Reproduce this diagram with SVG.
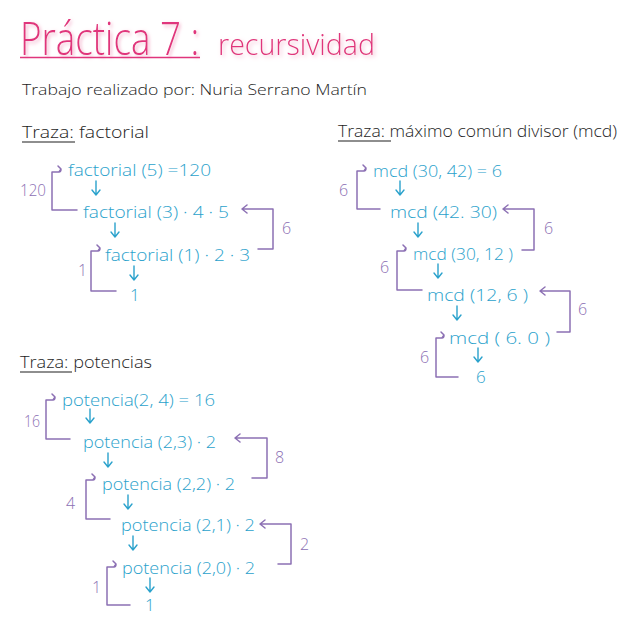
<svg xmlns="http://www.w3.org/2000/svg" width="627" height="629" viewBox="0 0 627 629">
<defs>
<style>
text{font-family:"Open Sans","Liberation Sans",sans-serif;}
.title{fill:#e0357c;font-weight:300;filter:url(#glow);}
.sub{fill:#1e1e1e;font-size:15px;font-weight:300;}
.head{fill:#1e1e1e;font-size:16px;font-weight:300;}
.b{fill:#2ba2cc;font-size:17px;font-weight:300;}
.p{fill:#8c70b4;font-size:16px;font-weight:300;}
.bl{fill:none;stroke:#2ba2cc;stroke-width:1.4;stroke-linecap:round;stroke-linejoin:round;}
.pl{fill:none;stroke:#8c70b4;stroke-width:1.5;stroke-linecap:round;stroke-linejoin:round;}
.ul{stroke:#1e1e1e;stroke-width:1.2;}
</style>
<filter id="glow" x="-10%" y="-40%" width="120%" height="180%">
<feGaussianBlur in="SourceAlpha" stdDeviation="2.2" result="b"/>
<feOffset in="b" dx="2" dy="2" result="o"/>
<feFlood flood-color="#f5b8d0" result="c"/>
<feComposite in="c" in2="o" operator="in" result="g"/>
<feMerge><feMergeNode in="g"/><feMergeNode in="SourceGraphic"/></feMerge>
</filter>
</defs>
<rect width="627" height="629" fill="#ffffff"/>

<g id="header">
<text class="title" transform="translate(20 55) scale(0.8 1)" x="0" y="0" font-size="46">Práctica 7 :</text>
<text class="title" x="218" y="55" font-size="30" textLength="157" lengthAdjust="spacingAndGlyphs">recursividad</text>
<line x1="20" y1="57.5" x2="200" y2="57.5" stroke="#e0357c" stroke-width="1.6"/>
<text class="sub" x="22" y="95" textLength="345" lengthAdjust="spacingAndGlyphs">Trabajo realizado por: Nuria Serrano Martín</text>
</g>

<g id="factorial">
<text class="head" x="22" y="138" textLength="127" lengthAdjust="spacingAndGlyphs">Traza: factorial</text>
<line class="ul" x1="22" y1="142" x2="75" y2="142"/>
<g id="f5"><text class="b" x="68" y="176" textLength="143" lengthAdjust="spacingAndGlyphs">factorial (5) =120</text></g>
<g id="f3"><text class="b" x="83" y="218" textLength="146" lengthAdjust="spacingAndGlyphs">factorial (3) · 4 · 5</text></g>
<g id="f1"><text class="b" x="105" y="261" textLength="145" lengthAdjust="spacingAndGlyphs">factorial (1) · 2 · 3</text></g>
<g id="f0"><text class="b" x="130" y="301">1</text></g>
<g class="p">
<text x="20" y="196" textLength="26" lengthAdjust="spacingAndGlyphs">120</text>
<text x="282" y="234">6</text>
<text x="78" y="276">1</text>
</g>
</g>

<g id="mcd">
<text class="head" x="338" y="137" textLength="279" lengthAdjust="spacingAndGlyphs">Traza: máximo común divisor (mcd)</text>
<line class="ul" x1="338" y1="141" x2="391" y2="141"/>
<g id="m1"><text class="b" x="373" y="177" textLength="129" lengthAdjust="spacingAndGlyphs">mcd (30, 42) = 6</text></g>
<g id="m2"><text class="b" x="390" y="218" textLength="107" lengthAdjust="spacingAndGlyphs">mcd (42. 30)</text></g>
<g id="m3"><text class="b" x="413" y="260" textLength="100" lengthAdjust="spacingAndGlyphs">mcd (30, 12 )</text></g>
<g id="m4"><text class="b" x="427" y="301" textLength="101" lengthAdjust="spacingAndGlyphs">mcd (12, 6 )</text></g>
<g id="m5"><text class="b" x="449" y="344" textLength="101" lengthAdjust="spacingAndGlyphs">mcd ( 6. 0 )</text></g>
<g id="m6"><text class="b" x="476" y="383">6</text></g>
<g class="p">
<text x="339" y="196">6</text>
<text x="544" y="234">6</text>
<text x="380" y="273">6</text>
<text x="578" y="315">6</text>
<text x="420" y="363">6</text>
</g>
</g>

<g id="potencias">
<text class="head" x="20" y="368" textLength="132" lengthAdjust="spacingAndGlyphs">Traza: potencias</text>
<line class="ul" x1="20" y1="372" x2="72" y2="372"/>
<g id="p4"><text class="b" x="62" y="406" textLength="153" lengthAdjust="spacingAndGlyphs">potencia(2, 4) = 16</text></g>
<g id="p3"><text class="b" x="83" y="448" textLength="133" lengthAdjust="spacingAndGlyphs">potencia (2,3) · 2</text></g>
<g id="p2"><text class="b" x="102" y="490" textLength="133" lengthAdjust="spacingAndGlyphs">potencia (2,2) · 2</text></g>
<g id="p1"><text class="b" x="121" y="531" textLength="134" lengthAdjust="spacingAndGlyphs">potencia (2,1) · 2</text></g>
<g id="p0"><text class="b" x="122" y="574" textLength="133" lengthAdjust="spacingAndGlyphs">potencia (2,0) · 2</text></g>
<g id="pr"><text class="b" x="145" y="611">1</text></g>
<g class="p">
<text x="24" y="427" textLength="16" lengthAdjust="spacingAndGlyphs">16</text>
<text x="275" y="463">8</text>
<text x="66" y="509">4</text>
<text x="300" y="550">2</text>
<text x="92" y="593">1</text>
</g>
</g>

<g id="connectors">
<!-- blue down arrows -->
<path class="bl" d="M96 181V195M92 190L96 195L100 190"/>
<path class="bl" d="M115 223V237M111 232L115 237L119 232"/>
<path class="bl" d="M134 266V280M130 275L134 280L138 275"/>
<path class="bl" d="M400 181V195M396 190L400 195L404 190"/>
<path class="bl" d="M418 223V237M414 232L418 237L422 232"/>
<path class="bl" d="M438 264V278M434 273L438 278L442 273"/>
<path class="bl" d="M457 306V320M453 315L457 320L461 315"/>
<path class="bl" d="M478 348V362M474 357L478 362L482 357"/>
<path class="bl" d="M90 409V423M86 418L90 423L94 418"/>
<path class="bl" d="M108 453V467M104 462L108 467L112 462"/>
<path class="bl" d="M128 495V509M124 504L128 509L132 504"/>
<path class="bl" d="M133 536V550M129 545L133 550L137 545"/>
<path class="bl" d="M150 578V592M146 587L150 592L154 587"/>
<!-- purple return brackets: left (arrow enters call to the right) -->
<path class="pl" d="M77 210H52V172H59Q61 172 61 169M58 166L61 169L59 172"/>
<path class="pl" d="M116 291H91V251H98Q100 251 100 248M97 245L100 248L98 251"/>
<path class="pl" d="M380 209H357V171H364Q366 171 366 168M363 165L366 168L364 171"/>
<path class="pl" d="M422 290H397V251H404Q406 251 406 248M403 245L406 248L404 251"/>
<path class="pl" d="M458 377H436V338H442Q444 338 444 335M441 332L444 335L442 338"/>
<path class="pl" d="M70 439H46V400H53Q55 400 55 397M52 394L55 397L53 400"/>
<path class="pl" d="M110 519H86V480H93Q95 480 95 477M92 474L95 477L93 480"/>
<path class="pl" d="M130 605H107V567H114Q116 567 116 564M113 561L116 564L114 567"/>
<!-- purple return brackets: right -->
<path class="pl" d="M258 249H273V209H243M247 205L242 209L247 213"/>
<path class="pl" d="M522 250H534V209H504M508 205L503 209L508 213"/>
<path class="pl" d="M557 332H570V291H541M545 287L540 291L545 295"/>
<path class="pl" d="M252 478H267V438H236M240 434L235 438L240 442"/>
<path class="pl" d="M278 564H291V524H261M265 520L260 524L265 528"/>
</g>
</svg>
